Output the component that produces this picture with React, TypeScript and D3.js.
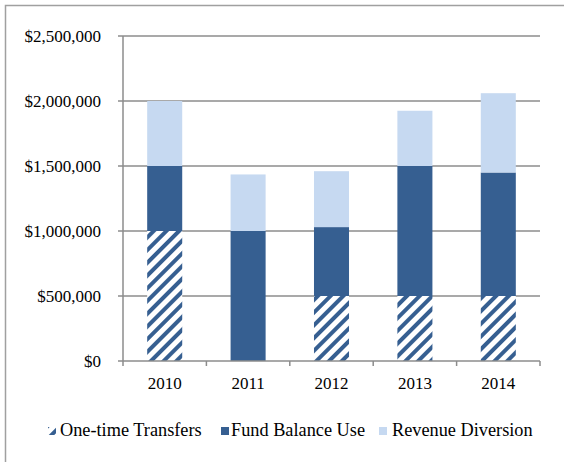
import React from "react";
import * as d3 from "d3";

const years = ["2010", "2011", "2012", "2013", "2014"];
const oneTimeTransfers = [1000000, 0, 500000, 500000, 500000];
const fundBalanceUse = [500000, 1000000, 530000, 1000000, 950000];
const revenueDiversion = [500000, 435000, 430000, 425000, 610000];
const yTicks = [0, 500000, 1000000, 1500000, 2000000, 2500000];
const seriesNames = ["One-time Transfers", "Fund Balance Use", "Revenue Diversion"];

const DARK = "#365F91";
const LIGHT = "#C6D9F1";
const GRID = "#8C8C8C";

export default function App() {
  const W = 564, H = 462;
  const left = 123, right = 540, top = 36, bottom = 361;
  const x = d3.scaleBand<string>().domain(years).range([left, right]).paddingInner(0.58).paddingOuter(0.29);
  const xb = d3.scaleBand<string>().domain(years).range([left, right]);
  const y = d3.scaleLinear().domain([0, 2500000]).range([bottom, top]);
  const fmt = (v: number) => "$" + d3.format(",")(v);

  const rows = years.map((yr, i) => ({ yr, s0: oneTimeTransfers[i], s1: fundBalanceUse[i], s2: revenueDiversion[i] }));
  const stack = d3.stack<any>().keys(["s0", "s1", "s2"])(rows);
  const fills = ["url(#hatch)", DARK, LIGHT];

  const font = "'Liberation Serif', 'Times New Roman', serif";
  const legendSwatchX = [48, 221, 379];
  const legendTextX = [60, 231, 392];

  return (
    <svg width={W} height={H} style={{ position: "absolute", left: 0, top: 0 }}>
      <defs>
        <pattern id="hatch" patternUnits="userSpaceOnUse" width="9" height="9" patternTransform="rotate(45)">
          <rect width="9" height="9" fill="#fff" />
          <rect x="0" y="0" width="4" height="9" fill={DARK} />
        </pattern>
      </defs>
      <rect x={0} y={0} width={W} height={H} fill="#fff" />
      <rect x={5.5} y={5.5} width={W + 10} height={H + 10} fill="none" stroke="#A0A0A0" strokeWidth={1.5} />
      {yTicks.map((t) => (
        <g key={t}>
          {t > 0 && <line x1={left} x2={right} y1={y(t)} y2={y(t)} stroke={GRID} strokeWidth={1.5} />}
          <line x1={left - 5} x2={left} y1={y(t)} y2={y(t)} stroke={GRID} strokeWidth={1.5} />
          <text x={101} y={y(t)} dy="0.33em" textAnchor="end" fontSize={17} style={{ fontFamily: font }} fill="#000">{fmt(t)}</text>
        </g>
      ))}
      {stack.map((layer, li) => (
        <g key={li}>
          {layer.map((d, i) => {
            const h = y(d[0]) - y(d[1]);
            if (h <= 0) return null;
            return (
              <rect key={i} x={x(years[i])} y={y(d[1])} width={x.bandwidth()} height={h} fill={fills[li]} />
            );
          })}
        </g>
      ))}
      <line x1={left} x2={left} y1={top} y2={bottom} stroke={GRID} strokeWidth={1.5} />
      <line x1={left} x2={right} y1={bottom} y2={bottom} stroke={GRID} strokeWidth={1.5} />
      {years.map((yr) => (
        <line key={yr} x1={xb(yr)} x2={xb(yr)} y1={bottom} y2={bottom + 5} stroke={GRID} strokeWidth={1.5} />
      ))}
      <line x1={right} x2={right} y1={bottom} y2={bottom + 5} stroke={GRID} strokeWidth={1.5} />
      {years.map((yr) => (
        <text key={yr} x={(xb(yr) as number) + xb.bandwidth() / 2} y={389} textAnchor="middle" fontSize={17} style={{ fontFamily: font }} fill="#000">{yr}</text>
      ))}
      {seriesNames.map((name, i) => (
        <g key={name}>
          <rect x={legendSwatchX[i]} y={427} width={8} height={8} fill={fills[i]} />
          <text x={legendTextX[i]} y={436} fontSize={18.3} style={{ fontFamily: font }} fill="#000">{name}</text>
        </g>
      ))}
    </svg>
  );
}
